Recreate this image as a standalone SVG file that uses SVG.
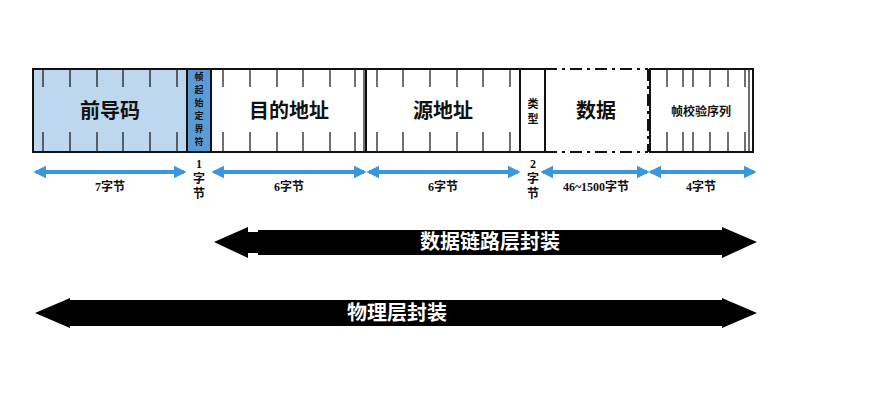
<svg xmlns="http://www.w3.org/2000/svg" width="876" height="409" viewBox="0 0 876 409">
<style>
.b{stroke:#111;stroke-width:2;fill:#fff}
.t{stroke:#111;stroke-width:1.2}
.cn{font-family:"Noto Sans CJK SC",sans-serif;font-weight:bold;text-anchor:middle;fill:#111}
.lb{font-family:"Liberation Serif","Noto Sans CJK SC",serif;font-weight:bold;font-size:12px;text-anchor:middle;fill:#111}
.ba{stroke:#3A97DC;stroke-width:4;fill:none}
.wt{font-family:"Noto Sans CJK SC",sans-serif;font-weight:bold;font-size:20px;fill:#fff;text-anchor:middle}
</style>
<defs>
<marker id="ah" viewBox="0 0 10 10" refX="8" refY="5" markerWidth="3.2" markerHeight="3.2" orient="auto-start-reverse"><path d="M0,0L10,5L0,10z" fill="#3A97DC"/></marker>
</defs>
<g id="preamble"><rect class="b" x="33" y="69" width="154" height="83" fill="#BDD7EE" style="fill:#BDD7EE"/>
<path class="t" d="M43,69V87M70,69V87M97,69V87M123,69V87M150,69V87M177,69V87M43,132V152M70,132V152M97,132V152M123,132V152M150,132V152M177,132V152"/>
<text class="cn" x="110" y="118" font-size="20">前导码</text></g>
<g id="sfd"><rect class="b" x="187" y="69" width="24" height="83" style="fill:#5B9BD5"/>
<text class="cn" font-size="9" x="199"><tspan x="199" y="80">帧</tspan><tspan x="199" y="93">起</tspan><tspan x="199" y="106">始</tspan><tspan x="199" y="119">定</tspan><tspan x="199" y="132">界</tspan><tspan x="199" y="145">符</tspan></text></g>
<g id="dst"><rect class="b" x="211" y="69" width="155" height="83"/>
<path class="t" d="M223,69V87M250,69V87M277,69V87M303,69V87M330,69V87M355,69V87M223,132V152M250,132V152M277,132V152M303,132V152M330,132V152M355,132V152M364,69V152"/>
<text class="cn" x="289" y="118" font-size="20">目的地址</text></g>
<g id="src"><rect class="b" x="366" y="69" width="154" height="83"/>
<path class="t" d="M377,69V87M403,69V87M430,69V87M457,69V87M483,69V87M510,69V87M377,132V152M403,132V152M430,132V152M457,132V152M483,132V152M510,132V152"/>
<text class="cn" x="443" y="118" font-size="20">源地址</text></g>
<g id="type"><rect class="b" x="520" y="69" width="25" height="83"/>
<text class="cn" font-size="11"><tspan x="533" y="108">类</tspan><tspan x="533" y="123">型</tspan></text></g>
<g id="data"><path d="M545,69H648M545,152H648M648,69V152" stroke="#111" stroke-width="2" fill="none" stroke-dasharray="12,5,3,5"/>
<text class="cn" x="596" y="118" font-size="20">数据</text></g>
<g id="fcs"><rect class="b" x="650" y="69" width="103" height="83"/>
<path class="t" d="M667,69V87M683,69V87M693,69V87M710,69V87M728,69V87M745,69V87M667,132V152M683,132V152M693,132V152M710,132V152M728,132V152M745,132V152M749,69V152"/>
<text class="cn" x="701" y="116" font-size="12">帧校验序列</text></g>
<g id="connectors">
<line class="ba" x1="36" y1="172" x2="184" y2="172" marker-start="url(#ah)" marker-end="url(#ah)"/>
<line class="ba" x1="214" y1="172" x2="364" y2="172" marker-start="url(#ah)" marker-end="url(#ah)"/>
<line class="ba" x1="369" y1="172" x2="518" y2="172" marker-start="url(#ah)" marker-end="url(#ah)"/>
<line class="ba" x1="543" y1="172" x2="647" y2="172" marker-start="url(#ah)" marker-end="url(#ah)"/>
<line class="ba" x1="651" y1="172" x2="754" y2="172" marker-start="url(#ah)" marker-end="url(#ah)"/>
<polygon points="214,242 248,227 248,232 258,232 258,230 722,230 722,227 757,242 722,258 722,255 258,255 258,253 248,253 248,258" fill="#000"/>
<polygon points="35,313 70,298 70,300 722,300 722,298 757,313 722,328 722,326 70,326 70,328" fill="#000"/>
</g>
<text class="lb" x="110" y="191">7字节</text>
<text class="lb"><tspan x="199" y="168">1</tspan><tspan x="199" y="183">字</tspan><tspan x="199" y="198">节</tspan></text>
<text class="lb" x="289" y="191">6字节</text>
<text class="lb" x="443" y="191">6字节</text>
<text class="lb"><tspan x="533" y="168">2</tspan><tspan x="533" y="183">字</tspan><tspan x="533" y="198">节</tspan></text>
<text class="lb" x="596" y="191">46~1500字节</text>
<text class="lb" x="701" y="191">4字节</text>
<text class="wt" x="490" y="249">数据链路层封装</text>
<text class="wt" x="397" y="320">物理层封装</text>
</svg>
